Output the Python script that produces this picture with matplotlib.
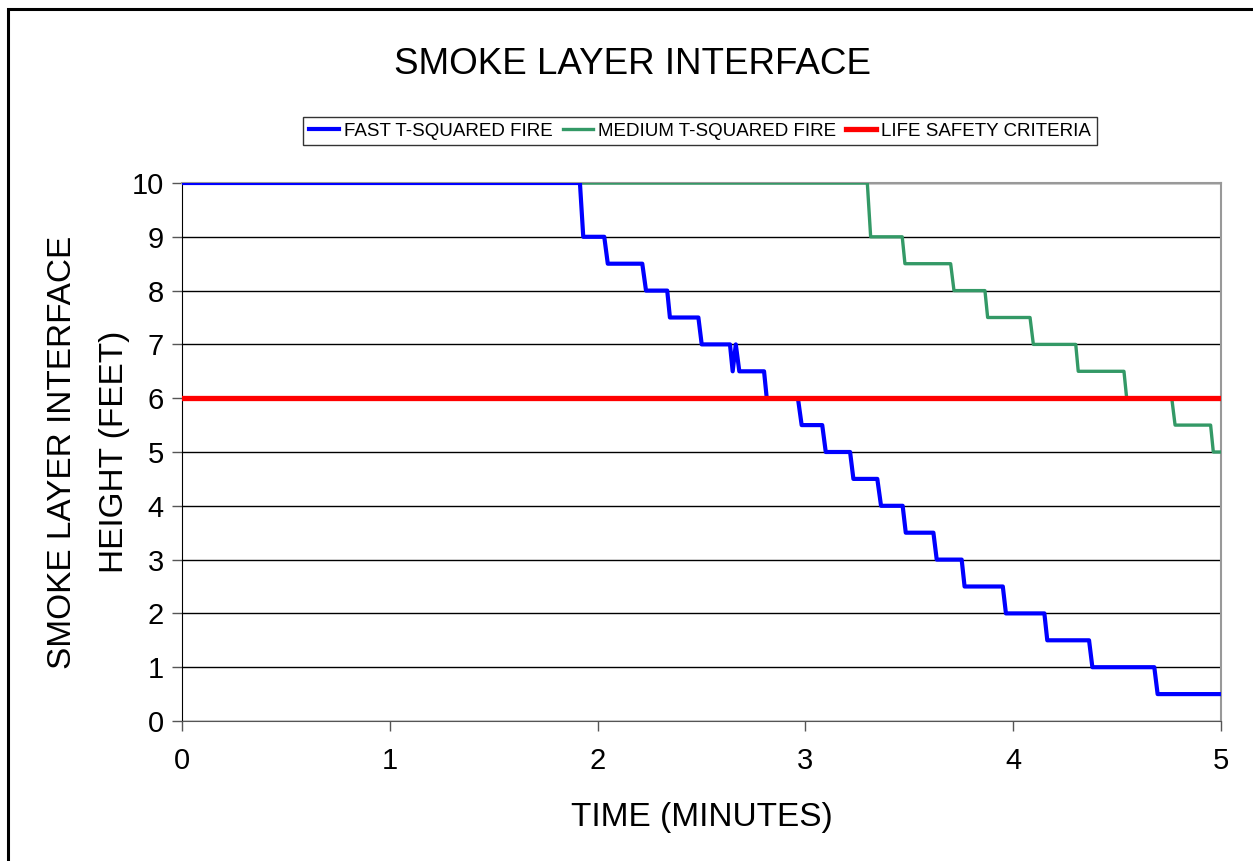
import matplotlib.pyplot as plt
from matplotlib.patches import Rectangle

plt.rcParams['font.family'] = ['Liberation Sans', 'DejaVu Sans']

# fast t-squared fire (time in minutes, interface height in feet)
fast_t = [0, 1.915, 1.931, 2.032, 2.049, 2.215, 2.233, 2.335, 2.348, 2.485, 2.501,
          2.637, 2.650, 2.665, 2.682, 2.801, 2.814, 2.964, 2.982, 3.081, 3.098,
          3.215, 3.231, 3.346, 3.364, 3.468, 3.483, 3.616, 3.632, 3.752, 3.766,
          3.950, 3.965, 4.150, 4.164, 4.365, 4.381, 4.679, 4.695, 5.0]
fast_h = [10, 10, 9, 9, 8.5, 8.5, 8, 8, 7.5, 7.5, 7,
          7, 6.5, 7, 6.5, 6.5, 6, 6, 5.5, 5.5, 5,
          5, 4.5, 4.5, 4, 4, 3.5, 3.5, 3, 3, 2.5,
          2.5, 2, 2, 1.5, 1.5, 1, 1, 0.5, 0.5]

# medium t-squared fire
med_t = [0, 3.298, 3.314, 3.466, 3.479, 3.699, 3.715, 3.864, 3.877, 4.081, 4.097,
         4.301, 4.313, 4.533, 4.546, 4.763, 4.779, 4.950, 4.963, 5.0]
med_h = [10, 10, 9, 9, 8.5, 8.5, 8, 8, 7.5, 7.5, 7,
         7, 6.5, 6.5, 6, 6, 5.5, 5.5, 5, 5]

# life safety criteria
crit_t = [0, 5]
crit_h = [6, 6]

fig = plt.figure(figsize=(12.53, 8.61), dpi=100)
ax = fig.add_axes([182/1253, 1-721/861, (1221-182)/1253, (721-183)/861])

ax.plot(fast_t, fast_h, color='#0000ff', lw=3.0, label='FAST T-SQUARED FIRE', zorder=4)
ax.plot(med_t, med_h, color='#339966', lw=2.4, label='MEDIUM T-SQUARED FIRE', zorder=3)
ax.plot(crit_t, crit_h, color='#ff0000', lw=3.8, label='LIFE SAFETY CRITERIA', zorder=5)

ax.set_xlim(0, 5)
ax.set_ylim(0, 10)
ax.set_xticks(range(0, 6))
ax.set_yticks(range(0, 11))
ax.grid(axis='y', color='black', lw=1)
ax.set_axisbelow(True)
ax.tick_params(axis='both', labelsize=21, length=7, width=1, color='#555555', direction='out')
ax.tick_params(axis='x', pad=12)
ax.tick_params(axis='y', pad=6)

for s in ['top', 'right']:
    ax.spines[s].set_color('#999999')
    ax.spines[s].set_linewidth(1.5)
ax.spines['left'].set_color('black')
ax.spines['bottom'].set_color('#555555')

ax.set_xlabel('TIME (MINUTES)', fontsize=24, labelpad=19)
ax.set_ylabel('SMOKE LAYER INTERFACE\nHEIGHT (FEET)', fontsize=24, labelpad=1, linespacing=1.9)

fig.text(632/1253, 1-64/861, 'SMOKE LAYER INTERFACE', fontsize=26.5, ha='center', va='center')

leg = fig.legend(loc='center', bbox_to_anchor=(700/1253, 1-131/861), ncol=3,
                 fontsize=13.5, frameon=True, fancybox=False, handlelength=1.6,
                 handletextpad=0.3, columnspacing=0.5, borderpad=0.3)
leg.get_frame().set_edgecolor('black')
leg.get_frame().set_linewidth(1)

# outer chart frame (runs off the right and bottom edges)
fig.patches.append(Rectangle((8/1253, -0.05), 1.2, 1-9/861+0.05, transform=fig.transFigure,
                             fill=False, edgecolor='black', lw=2.2))

fig.savefig('out.png', dpi=100)
